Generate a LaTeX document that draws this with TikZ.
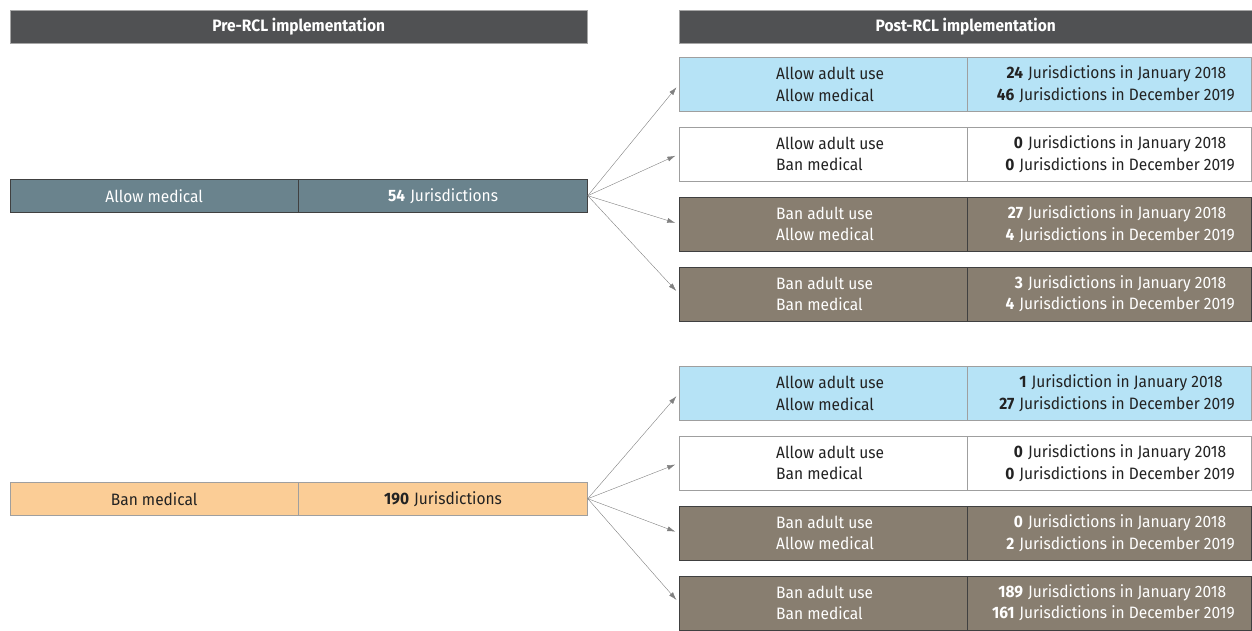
\documentclass[tikz,border=0pt]{standalone}
\usepackage{fontspec}
\setmainfont{Fira Sans}[FakeStretch=0.94]
\usetikzlibrary{arrows.meta,positioning}
\definecolor{hdrgray}{HTML}{505153}
\definecolor{slate}{HTML}{6A838D}
\definecolor{skyblue}{HTML}{B6E3F6}
\definecolor{taupe}{HTML}{887E70}
\definecolor{peach}{HTML}{FBCD96}
\definecolor{ink}{HTML}{222222}
\newcommand{\cnt}[4]{\makebox[30pt][r]{\bfseries #1}\hspace{5pt}#2\\\makebox[30pt][r]{\bfseries #3}\hspace{5pt}#4}
\newcommand{\pol}[2]{\makebox[94pt][l]{#1}\\\makebox[94pt][l]{#2}}

\begin{document}
\begin{tikzpicture}[
x=1pt, y=-1pt,
node distance=15.5pt,
every node/.style={font=\fontsize{16.5}{21.5}\selectfont, inner sep=0pt, anchor=north west, align=center},
hdr/.style={draw=gray!70, fill=hdrgray, text=white, minimum width=577pt, minimum height=33pt, font=\fontsize{16.5}{21.5}\selectfont\bfseries},
prebox/.style={minimum width=288pt, minimum height=33pt},
lcell/.style={minimum width=288pt, minimum height=54pt},
rcell/.style={minimum width=284pt, minimum height=54pt},
blue/.style={fill=skyblue, draw=gray!75, text=ink},
plain/.style={fill=white, draw=gray!75, text=ink},
brown/.style={fill=taupe, draw=black!75, text=white},
arrow/.style={-{Latex[length=8pt, width=5pt]}, draw=gray, shorten >=4pt}
]
\useasboundingbox (0,0) rectangle (1252,631);

\node[hdr] (hdrpre) at (10,10) {Pre-RCL implementation};
\node[hdr, minimum width=573pt] (hdrpost) at (679,10) {Post-RCL implementation};

\node[prebox, fill=slate, draw=black!75, text=white] (allowmed) at (10,179) {Allow medical};
\node[prebox, fill=slate, draw=black!75, text=white, right=0pt of allowmed, minimum width=289pt] (allowmedn) {\textbf{54}\hspace{5pt}Jurisdictions};

\node[prebox, fill=peach, draw=gray!75, text=ink] (banmed) at (10,482) {Ban medical};
\node[prebox, fill=peach, draw=gray!75, text=ink, right=0pt of banmed, minimum width=289pt] (banmedn) {\textbf{190}\hspace{5pt}Jurisdictions};

\node[lcell, blue] (a1pol) at (679,57) {\pol{Allow adult use}{Allow medical}};
\node[rcell, blue, right=0pt of a1pol] (a1cnt) {\cnt{24}{Jurisdictions in January 2018}{46}{Jurisdictions in December 2019}};
\node[lcell, plain, below=of a1pol] (a2pol) {\pol{Allow adult use}{Ban medical}};
\node[rcell, plain, right=0pt of a2pol] (a2cnt) {\cnt{0}{Jurisdictions in January 2018}{0}{Jurisdictions in December 2019}};
\node[lcell, brown, below=of a2pol] (a3pol) {\pol{Ban adult use}{Allow medical}};
\node[rcell, brown, right=0pt of a3pol] (a3cnt) {\cnt{27}{Jurisdictions in January 2018}{4}{Jurisdictions in December 2019}};
\node[lcell, brown, below=of a3pol] (a4pol) {\pol{Ban adult use}{Ban medical}};
\node[rcell, brown, right=0pt of a4pol] (a4cnt) {\cnt{3}{Jurisdictions in January 2018}{4}{Jurisdictions in December 2019}};

\node[lcell, blue] (b1pol) at (679,366) {\pol{Allow adult use}{Allow medical}};
\node[rcell, blue, right=0pt of b1pol] (b1cnt) {\cnt{1}{Jurisdiction in January 2018}{27}{Jurisdictions in December 2019}};
\node[lcell, plain, below=of b1pol] (b2pol) {\pol{Allow adult use}{Ban medical}};
\node[rcell, plain, right=0pt of b2pol] (b2cnt) {\cnt{0}{Jurisdictions in January 2018}{0}{Jurisdictions in December 2019}};
\node[lcell, brown, below=of b2pol] (b3pol) {\pol{Ban adult use}{Allow medical}};
\node[rcell, brown, right=0pt of b3pol] (b3cnt) {\cnt{0}{Jurisdictions in January 2018}{2}{Jurisdictions in December 2019}};
\node[lcell, brown, below=of b3pol] (b4pol) {\pol{Ban adult use}{Ban medical}};
\node[rcell, brown, right=0pt of b4pol] (b4cnt) {\cnt{189}{Jurisdictions in January 2018}{161}{Jurisdictions in December 2019}};

\foreach \r in {a1,a2,a3,a4}
  \draw[arrow] (allowmedn.east) -- (\r pol.west);
\foreach \r in {b1,b2,b3,b4}
  \draw[arrow] (banmedn.east) -- (\r pol.west);

\end{tikzpicture}
\end{document}
